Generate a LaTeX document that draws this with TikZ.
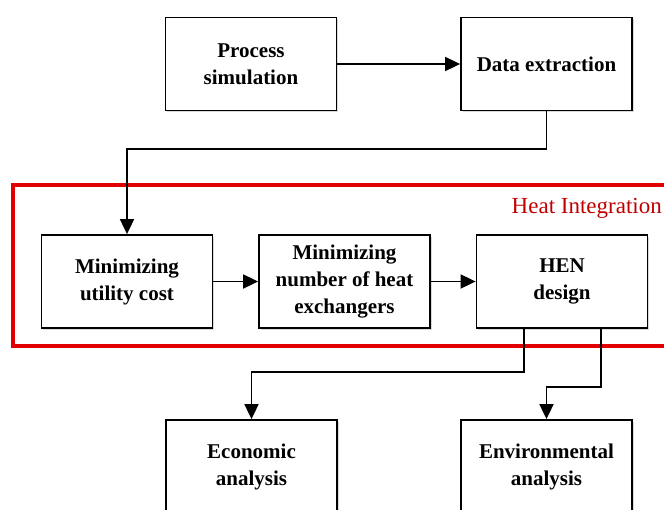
\documentclass[tikz,border=0pt]{standalone}
\usepackage{fontspec}
\setmainfont{Liberation Serif}
\usetikzlibrary{arrows.meta,shadows,calc}
\definecolor{hired}{RGB}{225,0,0}
\definecolor{hitext}{RGB}{192,0,0}
\begin{document}
\begin{tikzpicture}[x=1pt,y=-1pt,
  box/.style={draw=black,line width=1.8pt,fill=white,minimum width=171pt,minimum height=93pt,
    align=center,inner sep=2pt,font=\fontsize{21}{27}\selectfont\bfseries,
    drop shadow={shadow xshift=1.5pt,shadow yshift=-1.5pt,opacity=0.25,fill=black!60}},
  arr/.style={line width=1.8pt,-{Triangle[length=15pt,width=14pt]}}]
\useasboundingbox (0,0) rectangle (664,509);
\clip (0,0) rectangle (664,509);
% red heat integration frame
\draw[hired,line width=3.5pt] (13,185) rectangle (690,346);
\node[text=hitext,anchor=east,font=\fontsize{23}{26}\selectfont,inner sep=0pt] (hi) at (662,208) {Heat Integration};
% boxes
\node[box] (ps) at (251,64) {Process\\simulation};
\node[box] (de) at (546.5,64) {Data extraction};
\node[box] (muc) at (127,281.5) {Minimizing\\utility cost};
\node[box] (mnh) at (344.5,281.5) {Minimizing\\number of heat\\exchangers};
\node[box] (hen) at (562,281.5) {HEN\\design};
\node[box,minimum height=94pt] (eco) at (251.5,467) {Economic\\analysis};
\node[box,minimum height=94pt] (env) at (546.5,467) {Environmental\\analysis};
% connectors
\coordinate (c1) at (127,149);
\coordinate (b1) at (524,372);
\coordinate (b2) at (601,387);
\draw[arr] (ps.east) -- (de.west);
\draw[arr] (de.south) |- (c1) -- (muc.north);
\draw[arr] (muc.east) -- (mnh.west);
\draw[arr] (mnh.east) -- (hen.west);
\draw[arr] (hen.south -| b1) -- (b1) -| (eco.north);
\draw[arr] (hen.south -| b2) -- (b2) -| (env.north);
\end{tikzpicture}
\end{document}
